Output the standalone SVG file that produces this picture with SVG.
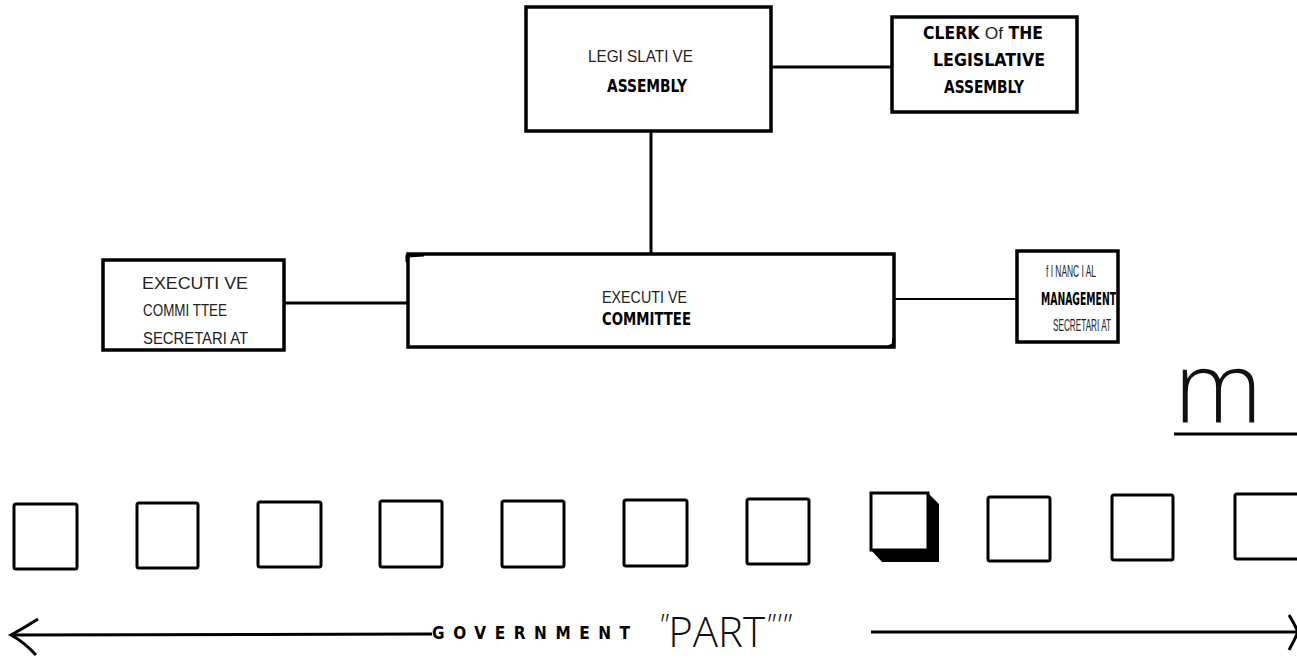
<svg xmlns="http://www.w3.org/2000/svg" width="1297" height="660" viewBox="0 0 1297 660">
<style>
.box{fill:#fff;stroke:#000;stroke-width:3.5}
.sq{fill:#fff;stroke:#000;stroke-width:3}
.conn{stroke:#000;stroke-width:3;fill:none}
.thin{stroke:#000;stroke-width:2;fill:none}
.r{font-family:"Liberation Sans Narrow","Liberation Sans",Arial,sans-serif;font-size:17px;fill:#222}
.b{font-family:"DejaVu Sans Condensed","DejaVu Sans",sans-serif;font-weight:bold;font-size:17px;fill:#000}
.light{font-family:"Open Sans","Noto Sans",sans-serif;font-weight:300;fill:#111}
</style>
<rect width="1297" height="660" fill="#fff"/>
<g id="connectors">
<line class="conn" x1="771" y1="67" x2="892" y2="67"/>
<line class="conn" x1="651" y1="131" x2="651" y2="254"/>
<line class="conn" x1="284" y1="303" x2="408" y2="303"/>
<line class="thin" x1="894" y1="299" x2="1017" y2="299"/>
</g>
<g id="legislative">
<rect class="box" x="526" y="7" width="245" height="124"/>
<text class="r" x="588" y="62" textLength="105" lengthAdjust="spacingAndGlyphs">LEGI SLATI VE</text>
<text class="b" x="607" y="92" textLength="80" lengthAdjust="spacingAndGlyphs">ASSEMBLY</text>
</g>
<g id="clerk">
<rect class="box" x="892" y="17" width="185" height="95"/>
<text class="b" x="923" y="39" textLength="120" lengthAdjust="spacingAndGlyphs">CLERK <tspan class="r" font-weight="normal">Of</tspan> THE</text>
<text class="b" x="933" y="66" textLength="112" lengthAdjust="spacingAndGlyphs">LEGISLATIVE</text>
<text class="b" x="944" y="93" textLength="80" lengthAdjust="spacingAndGlyphs">ASSEMBLY</text>
</g>
<g id="exec-secretariat">
<rect class="box" x="103" y="260" width="181" height="90"/>
<text class="r" x="142" y="289" textLength="106" lengthAdjust="spacingAndGlyphs">EXECUTI VE</text>
<text class="r" x="143" y="316" textLength="84" lengthAdjust="spacingAndGlyphs">COMMI TTEE</text>
<text class="r" x="143" y="344" textLength="105" lengthAdjust="spacingAndGlyphs">SECRETARI AT</text>
</g>
<g id="exec-committee">
<rect class="box" x="408" y="254" width="486" height="93"/>
<path class="conn" d="M407,262 L407,256 L424,255"/>
<path class="conn" d="M894,338 L893,345 L888,347"/>
<text class="r" x="602" y="303" textLength="85" lengthAdjust="spacingAndGlyphs">EXECUTI VE</text>
<text class="b" x="602" y="325" textLength="89" lengthAdjust="spacingAndGlyphs">COMMITTEE</text>
</g>
<g id="financial">
<rect class="box" x="1017" y="251" width="101" height="91"/>
<text class="r" x="1046" y="277" font-size="16" textLength="50" lengthAdjust="spacingAndGlyphs">f I NANC I AL</text>
<text class="b" x="1041" y="305" font-size="15" textLength="75" lengthAdjust="spacingAndGlyphs">MANAGEMENT</text>
<text class="r" x="1053" y="331" font-size="17" textLength="58" lengthAdjust="spacingAndGlyphs">SECRETARI AT</text>
</g>
<g id="m-mark">
<text class="light" x="1174" y="423" font-size="100">m</text>
<line class="conn" x1="1174" y1="434" x2="1297" y2="434"/>
</g>
<g id="squares">
<rect class="sq" x="14" y="504" width="63" height="65" rx="2"/>
<rect class="sq" x="137" y="503" width="61" height="65" rx="2"/>
<rect class="sq" x="258" y="502" width="63" height="65" rx="2"/>
<rect class="sq" x="380" y="501" width="62" height="66" rx="2"/>
<rect class="sq" x="502" y="501" width="62" height="66" rx="2"/>
<rect class="sq" x="624" y="500" width="63" height="66" rx="2"/>
<rect class="sq" x="747" y="499" width="62" height="65" rx="2"/>
<path d="M928,493 L939,504 L939,562 L882,562 L871,550 L928,550 Z" fill="#000"/>
<rect x="871" y="493" width="57" height="57" fill="#fff" stroke="#000" stroke-width="3"/>
<rect class="sq" x="988" y="497" width="62" height="64" rx="2"/>
<rect class="sq" x="1112" y="495" width="61" height="65" rx="2"/>
<rect class="sq" x="1235" y="494" width="66" height="65" rx="2"/>
</g>
<g id="span-arrow">
<line class="conn" x1="11" y1="635" x2="432" y2="634"/>
<path class="conn" d="M38,619 Q24,628 11,635 Q24,642 36,655"/>
<line class="conn" x1="871" y1="632" x2="1297" y2="632"/>
<path class="conn" d="M1289,615 Q1294,623 1298,632 Q1294,641 1289,650"/>
<text class="b" x="432" y="639" font-size="15" textLength="198" lengthAdjust="spacing">GOVERNMENT</text>
<text class="light" x="658" y="647" font-size="42"><tspan font-style="italic" font-size="30" dy="-12">"</tspan><tspan dy="12">PART</tspan><tspan font-style="italic" font-size="30" dy="-12">"'"</tspan></text>
</g>
</svg>
